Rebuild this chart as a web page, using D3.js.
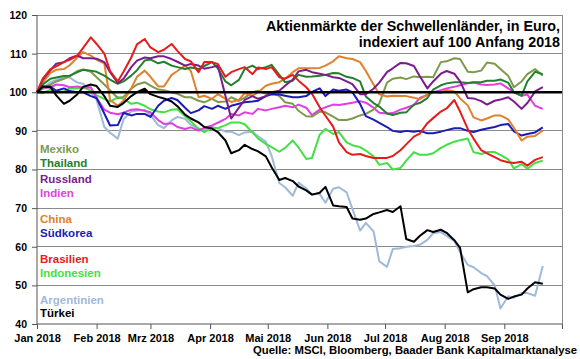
<!DOCTYPE html>
<html><head><meta charset="utf-8">
<script src="https://cdn.jsdelivr.net/npm/d3@7"></script>
<style>body{margin:0;background:#fff;}svg{display:block;font-family:"Liberation Sans",Arial,sans-serif;font-weight:bold;}</style>
</head><body>
<svg id="c" width="580" height="359"></svg>
<script>
const dates = [
 "2018-01-01","2018-01-04","2018-01-08","2018-01-11","2018-01-15","2018-01-18","2018-01-22","2018-01-25","2018-01-29","2018-02-01",
 "2018-02-05","2018-02-08","2018-02-12","2018-02-15","2018-02-19","2018-02-22","2018-02-26","2018-03-01","2018-03-05","2018-03-08",
 "2018-03-12","2018-03-15","2018-03-19","2018-03-22","2018-03-26","2018-03-29","2018-04-02","2018-04-05","2018-04-09","2018-04-12",
 "2018-04-16","2018-04-19","2018-04-23","2018-04-26","2018-04-30","2018-05-03","2018-05-07","2018-05-10","2018-05-14","2018-05-17",
 "2018-05-21","2018-05-24","2018-05-28","2018-05-31","2018-06-04","2018-06-07","2018-06-11","2018-06-14","2018-06-18","2018-06-21",
 "2018-06-25","2018-06-28","2018-07-02","2018-07-05","2018-07-09","2018-07-12","2018-07-16","2018-07-19","2018-07-23","2018-07-26",
 "2018-07-30","2018-08-02","2018-08-06","2018-08-09","2018-08-13","2018-08-16","2018-08-20","2018-08-23","2018-08-27","2018-08-30",
 "2018-09-03","2018-09-06","2018-09-10","2018-09-13","2018-09-17","2018-09-21"];
const mexiko = [
 100,101,102,102.8,103.5,104.1,105.5,105.9,105.3,103.9,
 102,100.5,98.5,98.8,100.9,102,102.6,101.7,100.7,100.5,
 100,99.6,98.7,98.7,97.8,97.4,98.3,97.5,97.6,98.7,
 97.8,98.6,100,100.4,99.6,100,99,97.4,97,95.2,
 93.8,93.7,95,94.8,93.7,92.8,92.8,93.2,94,94.4,
 95.5,97.1,102.5,103.5,103.8,103.4,104.1,103.9,104,103.9,
 107.8,108,108.8,108.6,105.3,105.2,105.6,107.7,107.4,106,
 104.3,101.3,102.8,104.7,106,104.3];
const thailand = [
 100,102,103.5,103.8,104.2,104.3,105.2,105.8,105.6,105.3,
 104.3,103.3,102.2,102.8,104.3,105.7,108.2,108.5,107.5,107.9,
 106.9,106.5,106,106.4,106,106.8,107.8,106.2,102.8,101.8,
 103.2,106,106.9,106,106.5,107.1,104.5,102.6,103,104.5,
 104,104.1,104.3,104.5,105,104.9,104,103.7,102.8,98.9,
 97.2,96.3,94.5,94.1,94.7,94.8,96.8,97.2,98.5,100.7,
 101.8,102.3,102.6,102.6,102.4,102.6,102.6,103,103,103.3,
 102.5,100,99.1,102.8,105.3,104.7];
const russland = [
 100,103.3,105.7,107.4,107.8,108.8,109.5,108.8,108.8,108.7,
 107.8,105.2,102.4,103.5,106.5,108.2,109,108.8,109.3,109.3,
 108.6,107.9,106.9,107.3,106.9,106.1,106.5,106.9,99,93.2,
 96,98,99,98.3,99,100,100.4,101.7,103.3,105.4,
 105.8,105.2,104.8,104.5,103.9,103.7,102.8,102.1,99.5,99.5,
 100.9,102.5,105.2,106.2,107.6,107.5,106.8,104.2,101,102.8,
 104.8,105.5,104.8,102.8,98.5,98.4,97.7,96.8,97.8,98.1,
 98.7,97.6,95.7,97.2,100.2,101.3];
const indien = [
 100,101,101.3,102,101.8,101.3,101.5,101.2,101.3,98.5,
 95.5,94.7,94.3,94.7,95.5,95.6,95.2,94.8,92.8,91.8,
 92,91,90.5,90.9,90.1,90.8,91.4,92.1,93.1,94.4,
 94,94.8,94.4,95.7,95.3,95.7,96.1,96.5,96.1,96.8,
 96,94.1,95.5,96.1,96.8,96.7,97,97.3,97.7,97.3,
 96,94.7,94.5,94.6,95.5,96,96.7,98.5,99.3,100,
 100.5,101,101.4,101.8,102.3,102.5,102,101.9,102,102.3,
 101,100,99.1,99.4,96.5,95.7];
const china = [
 100,102.5,105,105.8,106,107,109,110.4,109.5,108.4,
 107.5,98,96.5,97.8,101,104,105.6,104,101.5,101.5,
 104.5,105.5,106.9,105.5,98.7,99.1,98.3,99.5,98.3,97.5,
 98,99.8,99.1,100,101.7,102.2,102.6,103.5,105.2,106.2,
 106.2,106.2,106.3,106.9,108,109.3,108.8,108.6,107.8,105.5,
 102,99.5,98.9,99.1,99,99,98.6,98.2,99.4,100,
 99.8,100.6,100.2,98.4,96.6,93.5,92.7,93.2,94,94,
 93,90.8,87.5,88.5,88.7,90.1];
const suedkorea = [
 100,101.5,101.5,100.4,101,100.3,100,100,99,98.5,
 94.5,91.4,91.5,94.7,94,94.4,94.4,93.6,96.5,97.8,
 98.5,98,96,94.6,95.3,96.4,95.7,96.5,95.7,96.5,
 97,97.4,97.6,97.8,99,99.5,99.4,99.1,98.7,98.7,
 99,100.1,101,99,100.7,100.4,100.7,100,97,93.8,
 92.9,92.1,91,90,89.7,90,89.8,90,89.4,89.4,
 89.8,90.2,90.7,90.7,90,89.7,90.3,90.6,91,91.5,
 91.8,89.9,88.8,89.2,89.6,90.9];
const brasilien = [
 100,103.5,106,106.7,107.8,108.4,109.5,111.5,114.2,112.5,
 110,105.5,102.8,105.3,109,112.4,113.8,111.6,110.4,111,
 112.5,110.7,108.6,108,105.2,107.8,107.8,107.3,104,105.2,
 106,106.5,104.7,106.4,106,106.5,103.9,103.5,104.5,103,
 101.3,99.6,96.1,93.9,91.1,87,84.5,83.8,84,83.5,
 83,83,83,83.5,85,86.5,88.5,89.3,92,93.3,
 95,95.8,98,95,90.5,88,85,84.2,83.2,82.4,
 81.9,81.7,82,81,82.5,83.2];
const indonesien = [
 100,99.8,100.7,100.2,100.2,101,101,101.2,100.5,99.2,
 98.3,97.6,98.7,98.3,97,97.3,96.5,95.6,95,94.8,
 95.5,95.6,93.8,92.5,90.5,89.7,90.8,90.7,91.5,92.2,
 92.2,91.7,89.6,88,86.6,85.8,84.6,85.6,87.5,85.7,
 82.7,83,89,90.5,89.2,89.7,87,86.3,85.8,84.9,
 83.4,81.2,81.7,80,80.4,82.3,84.5,83.8,83.8,84.2,
 85.6,86.4,87.2,87.6,88,84.5,84,84.5,84.5,83.8,
 82.6,80.3,81.4,80.2,81.7,82.3];
const argentinien = [
 100,101,102.6,103.2,103.9,103.8,102.5,102.2,100,98,
 91,89.5,88,93,95,95.3,95.4,94.1,91.5,90.7,
 92.7,93.6,93.1,91.6,90.6,90.3,91,90.7,89.8,89.8,
 88.9,89.6,89.8,88.6,87.2,83.5,76.5,75.4,73.2,76.6,
 75.1,73.5,73.7,71.4,75,75.4,74.1,69.8,64.2,66.2,
 64,56.2,54.8,59.4,59.6,60,60.2,60.5,61.8,63.5,
 63.8,62.8,61.5,58.6,55.3,54.7,53.2,52.4,50,44,
 47.2,46.8,48,48,47.3,55];
const tuerkei = [
 100,101.5,101.3,99.2,97,97.8,99.5,101.4,102,101.6,
 99,96.5,96.2,97.2,99,100,100.9,99.5,98.8,98.4,
 97.6,96.4,94.2,93.2,92.2,91,90.6,89.7,87.5,84.2,
 85,86.4,85.3,84.7,83.4,80.6,77.3,77.8,77,75.6,
 74.6,73.5,74,75.5,70.7,70.5,70.3,67.3,67,67.3,
 68.5,68.9,69.5,69,70.5,62,61.3,62.8,64.3,63.8,
 64.4,63.6,61.7,59.7,48.2,49,49.5,49.5,49.2,47.6,
 46.5,47.1,47.6,49.2,50.8,50.4];

const seriesNames = ["Mexiko","Thailand","Russland","Indien","China","Südkorea","Brasilien","Indonesien","Argentinien","Türkei"];
const seriesValues = [mexiko,thailand,russland,indien,china,suedkorea,brasilien,indonesien,argentinien,tuerkei];
const seriesColors = ["#7d9a4c","#22802c","#7a1c8c","#e23ee2","#e2802c","#1c1cb4","#e41c1c","#42e042","#a0b9d9","#000000"];
const legendY = [152.7,167,182.5,197,222.5,236.5,263.3,276.7,304,316.7];
const drawOrder = ["Argentinien","Indonesien","Indien","Mexiko","Südkorea","China","Thailand","Russland","Brasilien","Türkei"];
const monthTicks = ["2018-01-01","2018-02-01","2018-03-01","2018-04-01","2018-05-01","2018-06-01","2018-07-01","2018-08-01","2018-09-01","2018-10-01"];
const monthLabels = ["Jan 2018","Feb 2018","Mrz 2018","Apr 2018","Mai 2018","Jun 2018","Jul 2018","Aug 2018","Sep 2018",""];
const yTicks = [40,50,60,70,80,90,100,110,120];
const titleLines = ["Aktienmärkte der Schwellenländer, in Euro,","indexiert auf 100 Anfang 2018"];
const sourceText = "Quelle: MSCI, Bloomberg, Baader Bank Kapitalmarktanalyse";

const parse = d3.timeParse("%Y-%m-%d");
const W = 580, H = 359, m = {l:37, t:15, r:18, b:35};
const svg = d3.select("#c");
const x = d3.scaleTime().domain([parse("2018-01-01"), parse("2018-10-01")]).range([m.l, W - m.r]);
const y = d3.scaleLinear().domain([40,120]).range([H - m.b, m.t]);

// gridlines
svg.append("g").selectAll("line").data(yTicks.filter(v => v > 40)).join("line")
  .attr("x1", m.l).attr("x2", W - m.r).attr("y1", d => y(d)).attr("y2", d => y(d))
  .attr("stroke", "#8a8a8a").attr("stroke-width", 1).attr("shape-rendering","crispEdges");
svg.append("line").attr("x1", W - m.r).attr("x2", W - m.r).attr("y1", y(120)).attr("y2", y(40))
  .attr("stroke", "#8a8a8a").attr("shape-rendering","crispEdges");

// axes
const yAxis = d3.axisLeft(y).tickValues(yTicks).tickSize(5).tickPadding(5).tickFormat(d3.format("d"));
const gy = svg.append("g").attr("transform", `translate(${m.l},0)`).call(yAxis);
const xAxis = d3.axisBottom(x).tickValues(monthTicks.map(parse)).tickSize(5).tickPadding(5)
  .tickFormat((d,i) => monthLabels[i]);
const gx = svg.append("g").attr("transform", `translate(0,${H - m.b})`).call(xAxis);
[gx, gy].forEach(g => {
  g.select(".domain").attr("stroke", "#555").attr("stroke-width", 1);
  g.selectAll(".tick line").attr("stroke", "#555");
  g.selectAll("text").attr("fill", "#000").style("font-weight", "bold")
    .style("font-family", '"Liberation Sans",Arial,sans-serif');
});
gx.selectAll("text").style("font-size", "11px");
gy.selectAll("text").style("font-size", "10.5px");
gy.select(".domain").attr("d", `M0,${y(120)}V${y(40)}`);
gx.select(".domain").attr("d", `M${m.l},0H${W - m.r}`);

// series
const line = d3.line().defined((d,i) => i < dates.length && d != null)
  .x((d,i) => x(parse(dates[i]))).y(d => y(d));
drawOrder.forEach(name => {
  const k = seriesNames.indexOf(name);
  svg.append("path").datum(seriesValues[k]).attr("d", line)
    .attr("fill", "none").attr("stroke", seriesColors[k]).attr("stroke-width", 2)
    .attr("stroke-linejoin", "round");
});

// 100 line
svg.append("line").attr("x1", m.l).attr("x2", W - m.r).attr("y1", y(100)).attr("y2", y(100))
  .attr("stroke", "#000").attr("stroke-width", 2.6);

// legend
svg.append("g").selectAll("text").data(seriesNames).join("text")
  .attr("x", 40).attr("y", (d,i) => legendY[i]).attr("fill", (d,i) => seriesColors[i])
  .style("font-size", "11.5px").text(d => d);

// title
svg.append("g").selectAll("text").data(titleLines).join("text")
  .attr("x", 560).attr("y", (d,i) => 30.5 + i * 16.8).attr("text-anchor", "end")
  .style("font-size", "14.3px").text(d => d);

// source
svg.append("text").attr("x", 577).attr("y", 353.5).attr("text-anchor", "end")
  .style("font-size", "11.3px").text(sourceText);
</script>
</body></html>
